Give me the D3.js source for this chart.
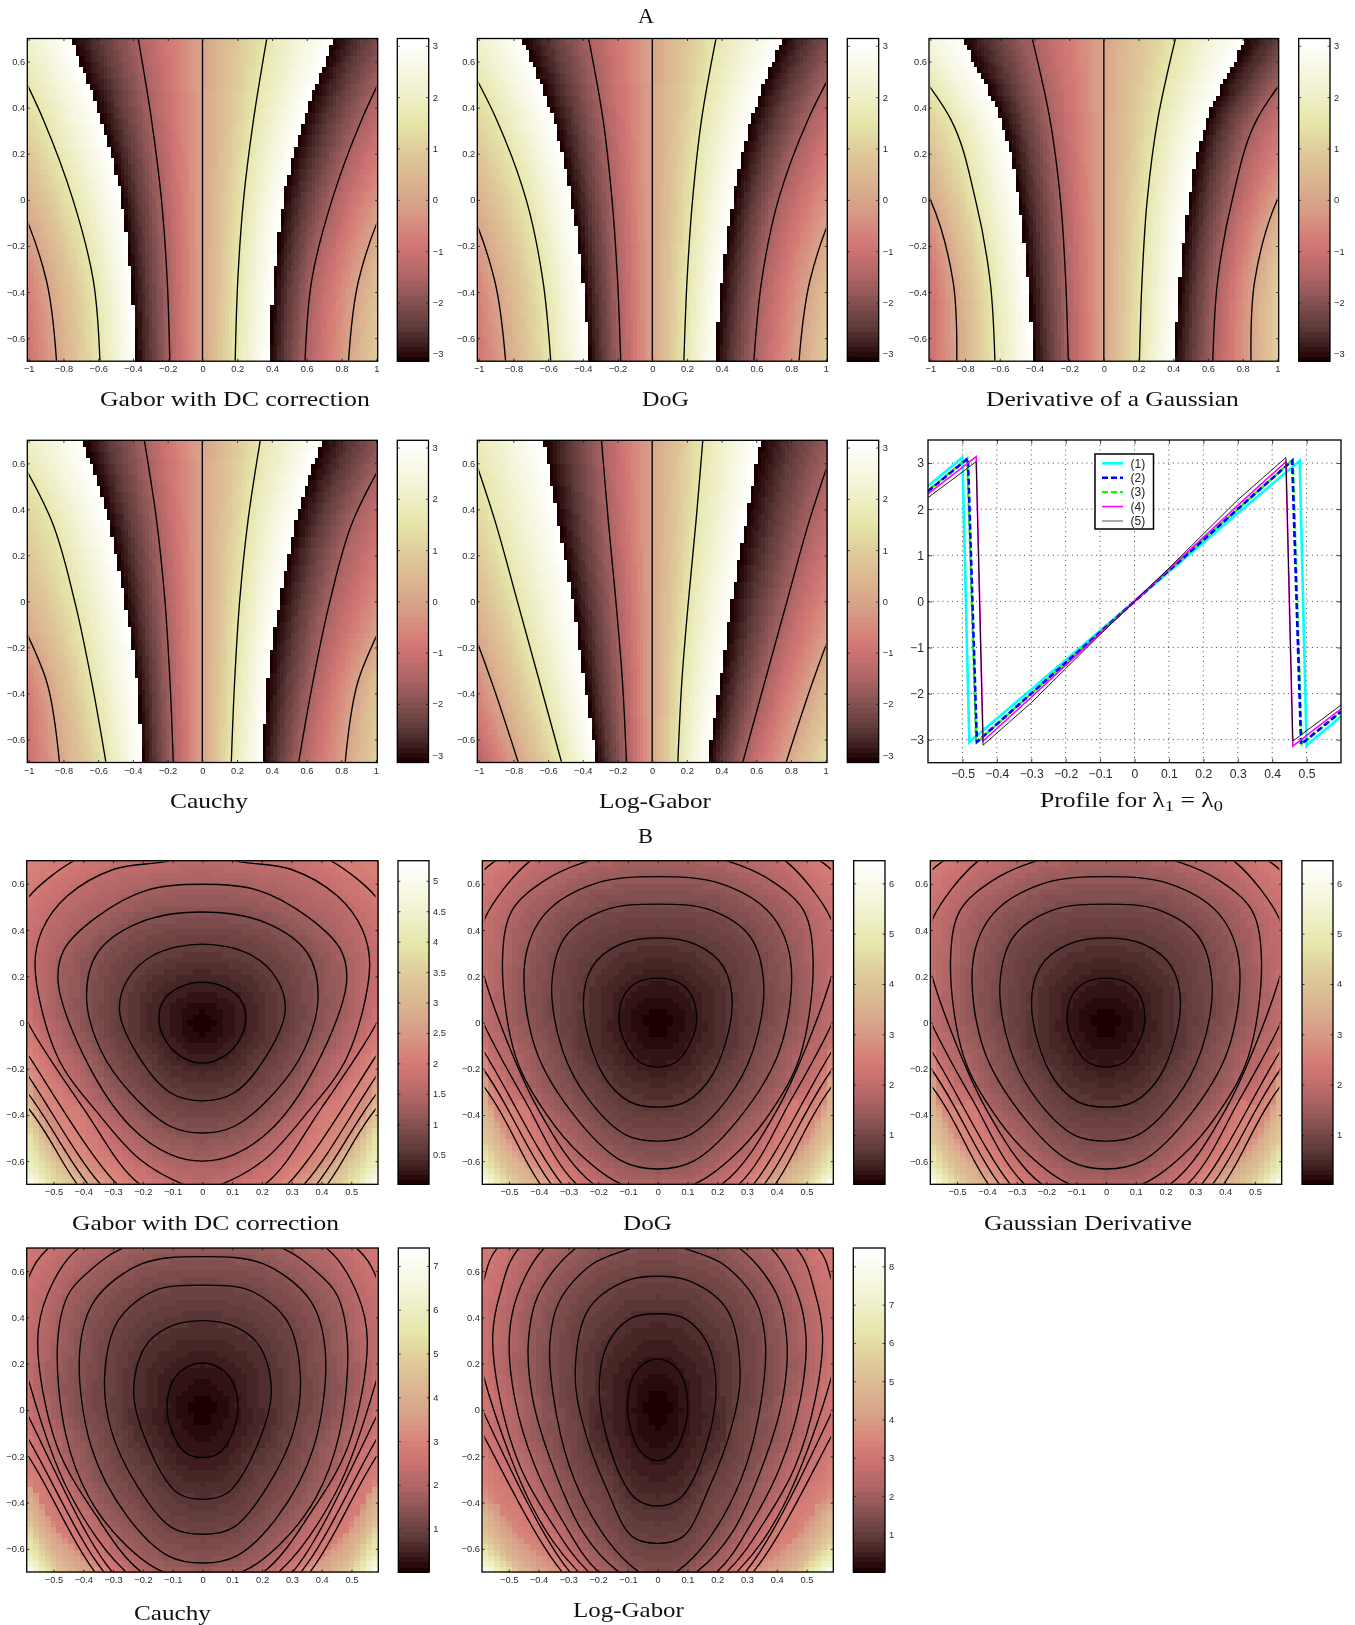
<!DOCTYPE html>
<html><head><meta charset="utf-8">
<style>html,body{margin:0;background:#fff}svg{display:block;filter:blur(.35px)}</style>
<script src="https://cdn.jsdelivr.net/npm/d3@7"></script></head><body>
<script>
// ---------- values ----------
// colour map (fraction of the colour bar -> colour)
const cmFrac=[0,.025,.06,.1,.18,.26,.34,.39,.5,.58,.66,.74,.82,.9,1];
const cmCol=['#1c0000','#2e1010','#452424','#5e3838','#855252','#ae6464','#cc7272','#d68078','#d8a58a','#dcb992','#e0cc9c','#e5e5a8','#eeeec6','#f6f6e0','#ffffff'];
// panel A: x position of the +pi/2, +pi (wrap), +3pi/2, +2pi iso-phase lines at each row of phaseY
const phaseY=[-0.7,-0.35,0,0.35,0.7];
const phaseGabor=[[.188,.203,.236,.294,.37],[.38,.41,.466,.585,.755],[.59,.628,.745,.917,1.14],[.84,.898,1.06,1.32,1.6]];
const phaseDoG=[[.182,.2,.232,.284,.367],[.365,.4,.466,.57,.745],[.585,.63,.726,.898,1.14],[.845,.908,1.07,1.33,1.6]];
const phaseDeriv=[[.205,.22,.25,.311,.413],[.403,.438,.49,.595,.816],[.628,.656,.74,.883,1.22],[.848,.87,1.0,1.28,1.6]];
const phaseCauchy=[[.167,.186,.215,.263,.334],[.345,.378,.445,.54,.685],[.555,.637,.735,.868,1.11],[.823,.896,1.1,1.34,1.58]];
const phaseLog=[[.148,.171,.209,.253,.292],[.319,.39,.459,.541,.622],[.522,.649,.777,.906,1.06],[.772,.925,1.1,1.3,1.5]];
// panel B: iso-lines, right half, [x,y] from bottom to top (outer points lie beyond the frame)
const magGabor=[
[[0,-.176],[.062,-.154],[.118,-.089],[.146,.012],[.129,.098],[.084,.148],[0,.174]],
[[0,-.339],[.106,-.305],[.207,-.161],[.278,.048],[.252,.184],[.162,.293],[0,.339]],
[[0,-.478],[.106,-.45],[.241,-.305],[.342,-.118],[.389,.112],[.353,.3],[.218,.429],[0,.478]],
[[0,-.6],[.106,-.572],[.241,-.45],[.386,-.176],[.484,.17],[.465,.314],[.353,.458],[.185,.573],[0,.598]],
[[0,-.72],[.064,-.7],[.209,-.593],[.342,-.406],[.487,-.147],[.562,.245],[.537,.403],[.453,.548],[.297,.663],[.129,.695],[0,.73]],
[[0,-.8],[.21,-.7],[.40,-.37],[.582,-.01],[.63,.14],[.645,.3],[.625,.44],[.582,.545],[.431,.7],[.3,.76],[0,.82]],
[[0,-.9],[.15,-.82],[.286,-.7],[.582,-.147],[.70,.1],[.74,.4],[.68,.68],[.5,.85],[0,.98]],
[[0,-1],[.2,-.85],[.342,-.7],[.582,-.236],[.76,.1],[.82,.45],[.75,.75],[.5,.95],[0,1.1]],
[[0,-1.1],[.22,-.92],[.384,-.7],[.582,-.313],[.85,.1],[.92,.5],[.85,.85],[.5,1.1],[0,1.25]],
[[0,-1.2],[.25,-.95],[.42,-.7],[.582,-.375],[.95,.1],[1.05,.5],[.95,1],[.5,1.25],[0,1.4]]];
const magDoG=[
[[0,-.193],[.064,-.169],[.114,-.075],[.131,.019],[.109,.127],[.064,.177],[0,.192]],
[[0,-.366],[.097,-.341],[.187,-.219],[.25,.069],[.22,.242],[.131,.336],[0,.366]],
[[0,-.513],[.108,-.486],[.232,-.334],[.321,-.118],[.356,.17],[.31,.372],[.176,.487],[0,.512]],
[[0,-.634],[.12,-.6],[.265,-.428],[.41,-.118],[.446,.271],[.377,.473],[.209,.602],[0,.631]],
[[0,-.72],[.122,-.699],[.254,-.579],[.377,-.392],[.478,-.147],[.522,.271],[.489,.487],[.377,.617],[.243,.695],[0,.76]],
[[0,-.8],[.216,-.699],[.4,-.38],[.581,.187],[.6,.32],[.581,.451],[.433,.695],[.3,.78],[0,.86]],
[[0,-.9],[.274,-.699],[.45,-.33],[.581,-.017],[.67,.25],[.68,.5],[.584,.66],[.556,.69],[.3,.88],[0,.95]],
[[0,-1],[.2,-.84],[.322,-.699],[.581,-.133],[.75,.2],[.78,.55],[.68,.8],[.3,1],[0,1.05]],
[[0,-1.05],[.22,-.87],[.358,-.699],[.581,-.212],[.85,.2],[.88,.6],[.78,.9],[.3,1.1],[0,1.15]],
[[0,-1.1],[.25,-.9],[.395,-.699],[.581,-.284],[.95,.2],[.98,.65],[.88,1],[.3,1.2],[0,1.25]]];
const magCauchy=[
[[0,-.205],[.059,-.183],[.104,-.089],[.119,.019],[.099,.127],[.054,.184],[0,.203]],
[[0,-.386],[.082,-.36],[.16,-.219],[.231,.069],[.194,.271],[.115,.357],[0,.386]],
[[0,-.537],[.104,-.507],[.216,-.334],[.306,-.089],[.328,.156],[.283,.386],[.16,.516],[0,.539]],
[[0,-.661],[.115,-.63],[.25,-.464],[.373,-.161],[.412,.256],[.362,.473],[.205,.631],[0,.663]],
[[0,-.72],[.137,-.696],[.26,-.58],[.38,-.38],[.46,-.1],[.486,.3],[.45,.5],[.38,.6],[.273,.696],[0,.78]],
[[0,-.82],[.209,-.696],[.36,-.45],[.49,-.15],[.553,.3],[.52,.5],[.419,.696],[.2,.8],[0,.85]],
[[0,-.9],[.26,-.696],[.45,-.35],[.581,.117],[.62,.35],[.581,.58],[.52,.696],[.25,.9],[0,.95]],
[[0,-1],[.15,-.85],[.305,-.696],[.581,-.036],[.7,.3],[.72,.55],[.65,.8],[.3,1],[0,1.05]],
[[0,-1.05],[.18,-.87],[.333,-.696],[.581,-.133],[.78,.3],[.8,.6],[.72,.9],[.3,1.1],[0,1.15]],
[[0,-1.1],[.2,-.9],[.363,-.696],[.581,-.207],[.86,.3],[.88,.65],[.8,1],[.3,1.2],[0,1.25]]];
const magLog=[
[[0,-.219],[.054,-.185],[.093,-.07],[.101,.03],[.082,.146],[.043,.203],[0,.22]],
[[0,-.415],[.076,-.38],[.143,-.23],[.196,.073],[.166,.29],[.087,.398],[0,.416]],
[[0,-.576],[.086,-.546],[.17,-.345],[.249,-.07],[.277,.16],[.233,.434],[.11,.556],[0,.578]],
[[0,-.74],[.07,-.693],[.17,-.56],[.28,-.3],[.34,-.02],[.362,.29],[.33,.47],[.22,.63],[.092,.697],[0,.73]],
[[0,-.78],[.137,-.693],[.25,-.53],[.35,-.25],[.42,.05],[.434,.3],[.40,.5],[.277,.697],[.1,.8],[0,.83]],
[[0,-.85],[.204,-.693],[.31,-.5],[.41,-.25],[.48,.05],[.498,.32],[.47,.5],[.383,.697],[.2,.85],[0,.9]],
[[0,-.9],[.237,-.693],[.36,-.48],[.46,-.25],[.53,.05],[.554,.32],[.53,.5],[.467,.697],[.2,.9],[0,.95]],
[[0,-.95],[.271,-.693],[.42,-.42],[.582,.135],[.61,.35],[.582,.57],[.54,.697],[.25,.95],[0,1]],
[[0,-1],[.15,-.85],[.299,-.693],[.582,-.017],[.68,.3],[.7,.55],[.62,.8],[.3,1.05],[0,1.1]],
[[0,-1.05],[.17,-.87],[.325,-.693],[.582,-.117],[.74,.3],[.76,.6],[.68,.9],[.3,1.1],[0,1.15]]];
// value of each drawn iso-line step, and corner iso-lines used only for the colouring: [value, points]
const stepGabor=.33, stepDoG=.35, stepCauchy=.36, stepLog=.38;
const cornerGabor=[[4,[[0,-1.4],[.28,-1.05],[.51,-.7],[.59,-.48],[1.3,.3],[1.3,.9],[0,1.6]]],[5.33,[[0,-1.7],[.3,-1.25],[.59,-.7],[1.5,0],[1.6,1],[0,2]]]];
const cornerDoG=[[3.9,[[0,-1.2],[.28,-.95],[.45,-.7],[.59,-.4],[1.1,.3],[1.1,.9],[0,1.4]]],[4.8,[[0,-1.4],[.3,-1.05],[.52,-.7],[.59,-.55],[1.3,.3],[1.3,.9],[0,1.6]]],[6.45,[[0,-1.7],[.3,-1.25],[.59,-.7],[1.5,0],[1.6,1],[0,2]]]];
const cornerCauchy=[[4.2,[[0,-1.2],[.25,-.95],[.44,-.7],[.59,-.38],[1,.3],[1,.9],[0,1.4]]],[5.5,[[0,-1.4],[.3,-1.05],[.52,-.7],[.59,-.53],[1.3,.3],[1.3,.9],[0,1.6]]],[7.41,[[0,-1.7],[.3,-1.25],[.59,-.7],[1.5,0],[1.6,1],[0,2]]]];
const cornerLog=[[4.9,[[0,-1.2],[.25,-.95],[.45,-.7],[.59,-.43],[1,.3],[1,.9],[0,1.4]]],[6.3,[[0,-1.4],[.3,-1.05],[.5,-.7],[.59,-.59],[1.3,.3],[1.3,.9],[0,1.6]]],[8.48,[[0,-1.7],[.3,-1.25],[.59,-.7],[1.5,0],[1.6,1],[0,2]]]];
// colour bar ranges and ticks
const barA=[-3.1416,3.1416], barAticks=[-3,-2,-1,0,1,2,3];
const barGabor=[.013,5.33], barGaborTicks=[.5,1,1.5,2,2.5,3,3.5,4,4.5,5];
const barDoG=[.02,6.45], barDoGTicks=[1,2,3,4,5,6];
const barCauchy=[.01,7.41], barCauchyTicks=[1,2,3,4,5,6,7];
const barLog=[.016,8.48], barLogTicks=[1,2,3,4,5,6,7,8];
// axis ticks
const xTicksA=[-1,-.8,-.6,-.4,-.2,0,.2,.4,.6,.8,1];
const xTicksB=[-.5,-.4,-.3,-.2,-.1,0,.1,.2,.3,.4,.5];
const yTicks=[-.6,-.4,-.2,0,.2,.4,.6];
// profile plot series
const profX1=[-.6,-.5,-.48,-.3,-.2,-.1,0,.1,.2,.3,.48,.5,.6], profY1=[2.5,3.12,-3.05,-1.91,-1.27,-.64,0,.64,1.27,1.91,3.05,-3.12,-2.5];
const profX2=[-.6,-.484,-.458,-.3,-.2,-.1,0,.1,.2,.3,.458,.484,.6], profY2=[2.39,3.1,-3.05,-2,-1.33,-.67,0,.67,1.33,2,3.05,-3.1,-2.39];
const profX3=[-.6,-.486,-.46,-.3,-.2,-.1,0,.1,.2,.3,.46,.486,.6], profY3=[2.4,3.1,-3.07,-2,-1.34,-.67,0,.67,1.34,2,3.07,-3.1,-2.4];
const profX4=[-.6,-.46,-.44,-.3,-.2,-.1,0,.1,.2,.3,.44,.46,.6], profY4=[2.33,3.14,-3.03,-2.08,-1.39,-.7,0,.7,1.39,2.08,3.03,-3.14,-2.33];
const profX5=[-.6,-.46,-.44,-.3,-.2,-.1,0,.1,.2,.3,.44,.46,.6], profY5=[2.25,3.03,-3.12,-2.2,-1.46,-.72,0,.72,1.46,2.2,3.12,-3.03,-2.25];
const legendLabels=['(1)','(2)','(3)','(4)','(5)'];
const profXTicks=[-.5,-.4,-.3,-.2,-.1,0,.1,.2,.3,.4,.5], profYTicks=[-3,-2,-1,0,1,2,3];

// ---------- layout ----------
const svg=d3.select('body').append('svg').attr('width',1355).attr('height',1625).attr('viewBox','0 0 1355 1625');
svg.append('rect').attr('width',1355).attr('height',1625).attr('fill','#fff');
const rampC=d3.scaleLinear().domain(cmFrac).range(cmCol).interpolate(d3.interpolateRgb);
const levelColor=f=>rampC(Math.min(63,Math.max(0,Math.floor(f*64)))/63);
const fmt=d=>String(d).replace('-','\u2212');
let clipId=0;

function frameAxes(g,x,y,xt,yt,font,pad,tick){
  const W=x.range()[1]-x.range()[0],H=y.range()[0]-y.range()[1];
  const b=g.append('g').attr('transform',`translate(0,${H})`).call(d3.axisBottom(x).tickValues(xt).tickSizeOuter(0).tickSizeInner(-tick).tickPadding(pad[0]).tickFormat(fmt));
  const l=g.append('g').call(d3.axisLeft(y).tickValues(yt).tickSizeOuter(0).tickSizeInner(-tick).tickPadding(pad[1]).tickFormat(fmt));
  const t=g.append('g').call(d3.axisTop(x).tickValues(xt).tickSizeOuter(0).tickSizeInner(-tick).tickFormat(''));
  const r=g.append('g').attr('transform',`translate(${W},0)`).call(d3.axisRight(y).tickValues(yt).tickSizeOuter(0).tickSizeInner(-tick).tickFormat(''));
  [b,l,t,r].forEach(s=>{s.select('.domain').remove();s.selectAll('text').attr('font-family','Liberation Sans').attr('font-size',font).attr('fill','#2a2a2a');s.selectAll('line').attr('stroke','#111').attr('stroke-width',.8);});
  g.append('rect').attr('width',W).attr('height',H).attr('fill','none').attr('stroke','#000').attr('stroke-width',1.3);
}
function heat(g,x,y,nx,ny,valueFn,color){
  const xr=x.domain(),yr=y.domain(),dx=(xr[1]-xr[0])/nx,dy=(yr[1]-yr[0])/ny,cells=[];
  for(let j=0;j<ny;j++)for(let i=0;i<nx;i++){const cx=xr[0]+(i+.5)*dx,cy=yr[0]+(j+.5)*dy;cells.push({x0:xr[0]+i*dx,y1:yr[0]+(j+1)*dy,dx,dy,v:valueFn(cx,cy)});}
  g.append('g').attr('shape-rendering','crispEdges').selectAll('rect').data(cells).join('rect')
   .attr('x',d=>x(d.x0)).attr('y',d=>y(d.y1)).attr('width',d=>x(d.x0+d.dx)-x(d.x0)+.6).attr('height',d=>y(d.y1-d.dy)-y(d.y1)+.6).attr('fill',d=>color(d.v));
}
function colorBar(box,dom,ticks){
  const g=svg.append('g').attr('transform',`translate(${box[0]},${box[2]})`);
  const W=box[1]-box[0],H=box[3]-box[2];
  const y=d3.scaleLinear().domain(dom).range([H,0]);
  const n=d3.range(64);
  g.append('g').attr('shape-rendering','crispEdges').selectAll('rect').data(n).join('rect')
   .attr('x',0).attr('width',W).attr('y',i=>H*(63-i)/64).attr('height',H/64+.6).attr('fill',i=>levelColor((i+.5)/64));
  const r=g.append('g').attr('transform',`translate(${W},0)`).call(d3.axisRight(y).tickValues(ticks).tickSizeOuter(0).tickSizeInner(-2.5).tickPadding(3).tickFormat(fmt));
  const l=g.append('g').call(d3.axisLeft(y).tickValues(ticks).tickSizeOuter(0).tickSizeInner(-2.5).tickFormat(''));
  [r,l].forEach(s=>{s.select('.domain').remove();s.selectAll('line').attr('stroke','#222').attr('stroke-width',.8);s.selectAll('text').attr('font-family','Liberation Sans').attr('font-size',9.3).attr('fill','#2a2a2a').attr('x',4);});
  g.append('rect').attr('width',W).attr('height',H).attr('fill','none').attr('stroke','#000').attr('stroke-width',1.3);
}
function panelG(box){return svg.append('g').attr('transform',`translate(${box[0]},${box[2]})`);}
function clipRect(g,x,y,xd,yd){const id='c'+(clipId++);g.append('clipPath').attr('id',id).append('rect').attr('x',x(xd[0])).attr('y',y(yd[1])).attr('width',x(xd[1])-x(xd[0])).attr('height',y(yd[0])-y(yd[1]));return id;}

// Catmull-Rom through the rows of phaseY
function rowAt(vals,yy){
  const h=phaseY[1]-phaseY[0];let t=(yy-phaseY[0])/h;let i=Math.max(0,Math.min(vals.length-2,Math.floor(t)));t-=i;
  const p0=i>0?vals[i-1]:2*vals[0]-vals[1],p1=vals[i],p2=vals[i+1],p3=i+2<vals.length?vals[i+2]:2*vals[i+1]-vals[i];
  return .5*(2*p1+(p2-p0)*t+(2*p0-5*p1+4*p2-p3)*t*t+(3*p1-p0-3*p2+p3)*t*t*t);
}
function phaseValue(c,x,yy){
  const ax=Math.abs(x),xs=[0,...c.map(v=>rowAt(v,yy))];let k=0;
  while(k<3&&ax>=xs[k+1])k++;
  let p=(k+(ax-xs[k])/(xs[k+1]-xs[k]))*Math.PI/2;
  if(p>Math.PI)p-=2*Math.PI;
  return x<0?-p:p;
}
function phasePanel(box,barBox,c){
  const g=panelG(box),W=box[1]-box[0],H=box[3]-box[2];
  const x=d3.scaleLinear().domain([-1.008,1.008]).range([0,W]),y=d3.scaleLinear().domain([-.7,.7]).range([H,0]);
  heat(g,x,y,101,57,(a,b)=>phaseValue(c,a,b),v=>levelColor((v+Math.PI)/(2*Math.PI)));
  const id=clipRect(g,x,y,[-1,1],[-.697,.697]);
  const line=d3.line().x(d=>x(d[0])).y(d=>y(d[1])).curve(d3.curveCatmullRom.alpha(0));
  const lines=[[phaseY.map(v=>[0,v])]];
  [c[0],c[2],c[3]].forEach(v=>{lines.push([phaseY.map((w,i)=>[v[i],w])]);lines.push([phaseY.map((w,i)=>[-v[i],w])]);});
  g.append('g').attr('clip-path',`url(#${id})`).selectAll('path').data(lines).join('path').attr('d',d=>line(d[0])).attr('fill','none').attr('stroke','#000').attr('stroke-width',1.35);
  frameAxes(g,x,y,xTicksA,yTicks,9.3,[4.5,2],2.5);
  colorBar(barBox,barA,barAticks);
}
// iso-lines in polar form around the origin, used to colour the cells
function polar(pts){return pts.map(p=>[Math.atan2(p[0],p[1]),Math.hypot(p[0],p[1])]).sort((a,b)=>a[0]-b[0]);}
function radiusAt(pol,th){let i=d3.bisector(d=>d[0]).right(pol,th);i=Math.max(1,Math.min(pol.length-1,i));const a=pol[i-1],b=pol[i];return a[1]+(b[1]-a[1])*(th-a[0])/((b[0]-a[0])||1);}
function magPanel(box,barBox,contours,step,corners,bar,ticks){
  const g=panelG(box),W=box[1]-box[0],H=box[3]-box[2];
  const x=d3.scaleLinear().domain([-.59,.59]).range([0,W]),y=d3.scaleLinear().domain([-.7,.7]).range([H,0]);
  const iso=contours.map((pts,i)=>[step*(i+1),polar(pts)]).concat(corners.map(c=>[c[0],polar(c[1])]));
  const value=(a,b)=>{
    const r=Math.hypot(a,b),th=Math.atan2(Math.abs(a),b);let r0=0,v0=0;
    for(const [lv,pol] of iso){const rk=radiusAt(pol,th);if(r<=rk&&rk>r0)return v0+(lv-v0)*(r-r0)/(rk-r0);if(rk>r0){r0=rk;v0=lv;}}
    return v0;};
  heat(g,x,y,59,57,value,v=>levelColor((v-bar[0])/(bar[1]-bar[0])));
  const id=clipRect(g,x,y,[-.582,.582],[-.697,.697]);
  const line=d3.line().x(d=>x(d[0])).y(d=>y(d[1])).curve(d3.curveCatmullRomClosed.alpha(.5));
  const loops=contours.map(pts=>pts.concat(pts.slice(1,-1).reverse().map(p=>[-p[0],p[1]])));
  g.append('g').attr('clip-path',`url(#${id})`).selectAll('path').data(loops).join('path').attr('d',line).attr('fill','none').attr('stroke','#000').attr('stroke-width',1.35);
  frameAxes(g,x,y,xTicksB,yTicks,9.3,[4.5,2],2.5);
  colorBar(barBox,bar,ticks);
}

// ---------- panels ----------
const rA1=[38.5,361.2], rA2=[440.3,762.5], rB1=[860.7,1184.3], rB2=[1248,1572];
phasePanel([27.3,377.7,...rA1],[397.3,428.7,...rA1],phaseGabor);
phasePanel([477.3,827.3,...rA1],[847.3,878.7,...rA1],phaseDoG);
phasePanel([929,1278.7,...rA1],[1298.7,1330,...rA1],phaseDeriv);
phasePanel([27.3,377.3,...rA2],[397.3,428.5,...rA2],phaseCauchy);
phasePanel([477.3,827,...rA2],[847.3,878.7,...rA2],phaseLog);
magPanel([26.7,378,...rB1],[398,429,...rB1],magGabor,stepGabor,cornerGabor,barGabor,barGaborTicks);
magPanel([482.3,833.3,...rB1],[853.7,885,...rB1],magDoG,stepDoG,cornerDoG,barDoG,barDoGTicks);
magPanel([930.3,1281.7,...rB1],[1302,1333,...rB1],magDoG,stepDoG,cornerDoG,barDoG,barDoGTicks);
magPanel([26.7,378.3,...rB2],[398.3,429.3,...rB2],magCauchy,stepCauchy,cornerCauchy,barCauchy,barCauchyTicks);
magPanel([482,833.3,...rB2],[853.3,885,...rB2],magLog,stepLog,cornerLog,barLog,barLogTicks);

// profile plot
(function(){
  const box=[928,1341,440,762.7],g=panelG(box),W=box[1]-box[0],H=box[3]-box[2];
  const x=d3.scaleLinear().domain([-.6,.6]).range([0,W]),y=d3.scaleLinear().domain([-3.5,3.5]).range([H,0]);
  const grid=g.append('g').attr('stroke','#333').attr('stroke-width',.9).attr('stroke-dasharray','1 3.8');
  grid.selectAll('.v').data(profXTicks).join('line').attr('class','v').attr('x1',d=>x(d)).attr('x2',d=>x(d)).attr('y1',0).attr('y2',H);
  grid.selectAll('.h').data(profYTicks).join('line').attr('class','h').attr('y1',d=>y(d)).attr('y2',d=>y(d)).attr('x1',0).attr('x2',W);
  const id=clipRect(g,x,y,[-.6,.6],[-3.5,3.5]);
  const line=d3.line().x(d=>x(d[0])).y(d=>y(d[1]));
  const series=[
   {xs:profX1,ys:profY1,c:'#00ffff',w:2.6},
   {xs:profX3,ys:profY3,c:'#00ff00',w:2.3,dash:'6 3',off:5},
   {xs:profX2,ys:profY2,c:'#0000ff',w:2.6,dash:'6 3'},
   {xs:profX4,ys:profY4,c:'#ff00ff',w:1.6},
   {xs:profX5,ys:profY5,c:'#000',w:.9}];
  const pl=g.append('g').attr('clip-path',`url(#${id})`);
  pl.selectAll('path').data(series).join('path').attr('d',s=>line(s.xs.map((v,i)=>[v,s.ys[i]]))).attr('fill','none')
    .attr('stroke',s=>s.c).attr('stroke-width',s=>s.w).attr('stroke-dasharray',s=>s.dash||null).attr('stroke-dashoffset',s=>s.off||0).attr('stroke-linejoin','miter');
  frameAxes(g,x,y,profXTicks,profYTicks,12.2,[7,4],4);
  // legend
  const lg=g.append('g').attr('transform',`translate(${1095-928},${454-440})`);
  lg.append('rect').attr('width',58.5).attr('height',75).attr('fill','#fff').attr('stroke','#000').attr('stroke-width',1.5);
  const order=[series[0],series[2],{c:'#00ff00',w:2.3,dash:'6 3'},series[3],{c:'#555',w:1}];
  const row=d3.scaleLinear().domain([0,4]).range([9.3,67]);
  order.forEach((s,i)=>{
    lg.append('line').attr('x1',7).attr('x2',28).attr('y1',row(i)).attr('y2',row(i)).attr('stroke',s.c).attr('stroke-width',s.w).attr('stroke-dasharray',s.dash||null);
    lg.append('text').attr('x',35.5).attr('y',row(i)+4.2).attr('font-family','Liberation Sans').attr('font-size',12).attr('fill','#222').text(legendLabels[i]);
  });
})();

// titles and captions: real text, stretched horizontally to the width of the Computer Modern original
function caption(txt,x0,x1,base,size){
  const t=svg.append('text').attr('font-family','Liberation Serif').attr('font-size',size).attr('fill','#111');
  if(Array.isArray(txt)){txt.forEach(p=>{const s=t.append('tspan').text(p[0]);if(p[1]){s.attr('font-size',size*.72).attr('dy',p[1]);}else s.attr('dy',p[2]||0);});}
  else t.text(txt);
  const w=t.node().getComputedTextLength();
  t.attr('transform',`translate(${x0},${base}) scale(${(x1-x0)/w},1)`);
}
caption('A',638,654,23,21);
caption('B',638,653,843,21);
caption('Gabor with DC correction',100,370,406,21);
caption('DoG',642,689,406,21);
caption('Derivative of a Gaussian',986,1239,406,21);
caption('Cauchy',170,248,808,21);
caption('Log-Gabor',599,711,808,21);
caption([['Profile for \u03bb'],['1',4],['\u00a0=\u00a0\u03bb',null,-4],['0',4]],1040,1223,807,21);
caption('Gabor with DC correction',72,339,1230,21);
caption('DoG',623,672,1230,21);
caption('Gaussian Derivative',984,1192,1230,21);
caption('Cauchy',134,211,1620,21);
caption('Log-Gabor',573,684,1617,21);
</script></body></html>
